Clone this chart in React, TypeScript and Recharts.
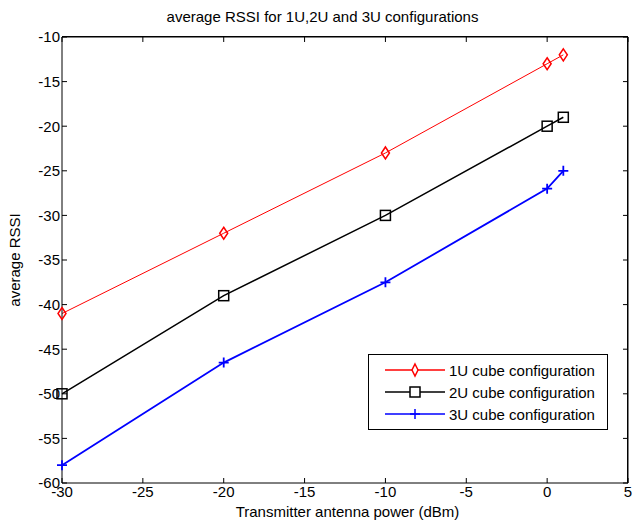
import React from 'react';
import { LineChart, Line, XAxis, YAxis, ReferenceLine } from 'recharts';

const power = [-30, -20, -10, 0, 1];
const rssi1U = [-41, -32, -23, -13, -12];
const rssi2U = [-50, -39, -30, -20, -19];
const rssi3U = [-58, -46.5, -37.5, -27, -25];
const xTicks = [-30, -25, -20, -15, -10, -5, 0, 5];
const yTicks = [-60, -55, -50, -45, -40, -35, -30, -25, -20, -15, -10];

const data = power.map((p, i) => ({ p, a: rssi1U[i], b: rssi2U[i], c: rssi3U[i] }));

const FONT = '"Liberation Sans Narrow", "Liberation Sans", Arial, sans-serif';

const Diamond = (props: any) => {
  const { cx, cy } = props;
  if (cx == null || cy == null) return null;
  return <path d={`M${cx},${cy - 6} L${cx + 4},${cy} L${cx},${cy + 6} L${cx - 4},${cy} Z`} fill="none" stroke="#ff0000" strokeWidth={1.5} />;
};
const Square = (props: any) => {
  const { cx, cy } = props;
  if (cx == null || cy == null) return null;
  return <rect x={cx - 5} y={cy - 5} width={10} height={10} fill="none" stroke="#000" strokeWidth={1.5} />;
};
const Plus = (props: any) => {
  const { cx, cy } = props;
  if (cx == null || cy == null) return null;
  return <path d={`M${cx - 5},${cy} H${cx + 5} M${cx},${cy - 5} V${cy + 5}`} stroke="#0000ff" strokeWidth={1.8} />;
};

const legendItems = [
  { label: '1U cube configuration', color: '#ff0000', kind: 'd' },
  { label: '2U cube configuration', color: '#000000', kind: 's' },
  { label: '3U cube configuration', color: '#0000ff', kind: 'p' },
];

const LegendBox = () => (
  <div style={{ position: 'absolute', left: 368, top: 354, border: '1px solid #000', background: '#fff', width: 240, height: 76, boxSizing: 'border-box', padding: '4px 0 0 14px', fontFamily: FONT, fontSize: 15 }}>
    {legendItems.map((it) => (
      <div key={it.label} style={{ display: 'flex', alignItems: 'center', height: 22 }}>
        <svg width={64} height={16}>
          <line x1={2} y1={8} x2={62} y2={8} stroke={it.color} strokeWidth={1.5} />
          {it.kind === 'd' && <path d="M32,2 L35,8 L32,14 L29,8 Z" fill="#fff" stroke={it.color} strokeWidth={1.5} />}
          {it.kind === 's' && <rect x={27} y={3} width={10} height={10} fill="#fff" stroke={it.color} strokeWidth={1.5} />}
          {it.kind === 'p' && <path d="M27,8 H37 M32,3 V13" stroke={it.color} strokeWidth={1.5} />}
        </svg>
        <span style={{ marginLeft: 2, color: '#000' }}>{it.label}</span>
      </div>
    ))}
  </div>
);

export default function App() {
  const tickStyle = { fontFamily: FONT, fontSize: 15, fill: '#000' };
  return (
    <div style={{ position: 'absolute', left: 0, top: 0, width: 633, height: 529, background: '#fff' }}>
      <div style={{ position: 'absolute', left: 0, top: 8, width: 633, paddingLeft: 12, boxSizing: 'border-box', textAlign: 'center', fontFamily: FONT, fontSize: 15 }}>
        average RSSI for 1U,2U and 3U configurations
      </div>
      <div style={{ position: 'absolute', left: 0, paddingLeft: 62, width: 633, boxSizing: 'border-box', textAlign: 'center', top: 503, fontFamily: FONT, fontSize: 15, whiteSpace: 'nowrap' }}>
        Transmitter antenna power (dBm)
      </div>
      <div style={{ position: 'absolute', left: 14, top: 260, transform: 'translate(-50%, -50%) rotate(-90deg)', fontFamily: FONT, fontSize: 15, whiteSpace: 'nowrap' }}>
        average RSSI
      </div>
      <div style={{ position: 'absolute', left: 0, top: 0 }}>
        <LineChart width={633} height={529} data={data} margin={{ top: 37, right: 5, bottom: 16, left: 22 }}>
          <XAxis dataKey="p" type="number" domain={[-30, 5]} ticks={xTicks}
            stroke="#000" tickSize={-5} tickMargin={8} tick={tickStyle} height={30} />
          <YAxis type="number" domain={[-60, -10]} ticks={yTicks} stroke="#000" tickSize={-5} tickMargin={7}
            tick={tickStyle} width={40} />
          <ReferenceLine y={-10} stroke="black" strokeWidth={1} ifOverflow="visible" />
          <ReferenceLine x={5} stroke="black" strokeWidth={1} ifOverflow="visible" />
          {xTicks.map((t) => (
            <ReferenceLine key={'tx' + t} segment={[{ x: t, y: -10 }, { x: t, y: -10.56 }]} stroke="black" strokeWidth={1} ifOverflow="visible" />
          ))}
          {yTicks.map((v) => (
            <ReferenceLine key={'ty' + v} segment={[{ x: 5, y: v }, { x: 4.69, y: v }]} stroke="black" strokeWidth={1} ifOverflow="visible" />
          ))}
          <Line dataKey="a" stroke="#ff0000" strokeWidth={1} dot={<Diamond />} activeDot={false} isAnimationActive={false} />
          <Line dataKey="b" stroke="#000000" strokeWidth={1.5} dot={<Square />} activeDot={false} isAnimationActive={false} />
          <Line dataKey="c" stroke="#0000ff" strokeWidth={1.8} dot={<Plus />} activeDot={false} isAnimationActive={false} />
        </LineChart>
      </div>
      <div style={{ position: 'absolute', left: 62, top: 36, width: 566, height: 447, boxSizing: 'border-box', borderTop: '1px solid #000', borderRight: '1px solid #000', pointerEvents: 'none' }} />
      <LegendBox />
    </div>
  );
}
